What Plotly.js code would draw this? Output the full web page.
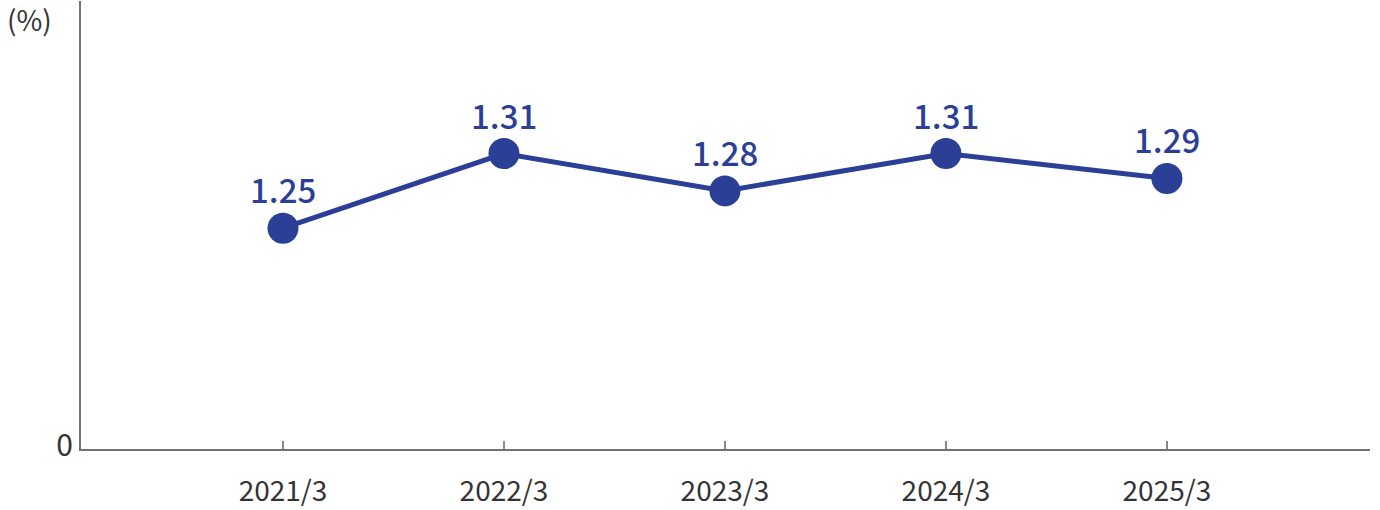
<!DOCTYPE html>
<html>
<head>
<meta charset="utf-8">
<script src="https://cdn.plot.ly/plotly-3.0.1.min.js"></script>
<style>
  html, body { margin: 0; padding: 0; background: #fff; }
  #plot { width: 1380px; height: 510px; }
</style>
</head>
<body>
<div id="plot"></div>
<script>
// fiscal years (March year-end)
var years = ["2021/3", "2022/3", "2023/3", "2024/3", "2025/3"];
// ratio in %
var ratios = [1.25, 1.31, 1.28, 1.31, 1.29];
// the original axis is broken: the bottom is labelled 0
var yRange = [1.0726, 1.4326];
var yTickVals = [yRange[0]];
var yTickText = ["0"];

var navy = "#2c3f96";
var font = "'Noto Sans CJK JP', 'Noto Sans', sans-serif";

var trace = {
  x: years,
  y: ratios,
  type: "scatter",
  mode: "lines+markers",
  line: { color: navy, width: 5 },
  marker: { color: navy, size: 31 },
  hoverinfo: "skip"
};

// value labels above each point
var labels = years.map(function (yr, i) {
  return {
    x: yr, y: ratios[i],
    text: ratios[i].toFixed(2),
    showarrow: false,
    yanchor: "bottom",
    yshift: 13,
    font: { family: font, size: 33, color: navy, weight: 500 }
  };
});
labels.push({
  xref: "paper", yref: "paper",
  x: -0.0396, y: 0.96,
  xanchor: "center", yanchor: "middle",
  text: "(%)", showarrow: false,
  font: { family: font, size: 28, color: "#333" }
});

var layout = {
  width: 1380, height: 510,
  margin: { l: 81, r: 10, t: 1, b: 61 },
  paper_bgcolor: "#fff", plot_bgcolor: "#fff",
  showlegend: false,
  font: { family: font, color: "#333" },
  xaxis: {
    type: "category",
    range: [-0.914, 4.919],
    showline: true, linecolor: "#737373", linewidth: 2,
    showgrid: false, zeroline: false,
    ticks: "inside", ticklen: 8, tickwidth: 2, tickcolor: "#8a8a8a",
    tickfont: { family: font, size: 28, color: "#333" },
    ticklabelstandoff: 16
  },
  yaxis: {
    range: yRange,
    tickvals: yTickVals, ticktext: yTickText,
    showline: true, linecolor: "#737373", linewidth: 2,
    showgrid: false, zeroline: false,
    ticks: "",
    tickfont: { family: font, size: 30, color: "#333" },
    ticklabelstandoff: 0,
    ticklabelshift: -4
  },
  annotations: labels
};

Plotly.newPlot("plot", [trace], layout, { displayModeBar: false, staticPlot: true });
</script>
</body>
</html>
